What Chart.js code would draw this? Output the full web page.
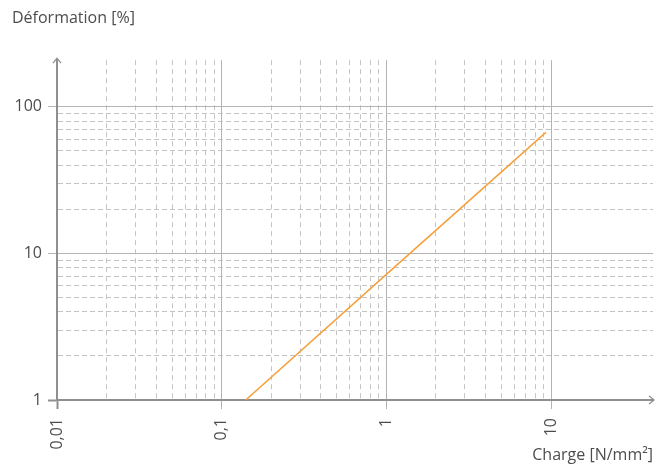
<!DOCTYPE html>
<html>
<head>
<meta charset="utf-8">
<script src="https://cdn.jsdelivr.net/npm/chart.js@4.4.1/dist/chart.umd.min.js"></script>
<style>
  body { margin: 0; background: #fff; }
  #wrap { width: 670px; height: 469px; }
</style>
</head>
<body>
<div id="wrap"><canvas id="chart" width="670" height="469"></canvas></div>
<script>
// load / deformation curve, both axes logarithmic
var charge = [0.14, 1, 9.3];        // N/mm²
var deformation = [1, 7.2, 67];     // %

var xDecades = [0.01, 0.1, 1, 10];
var xLabels = ['0,01', '0,1', '1', '10'];
var yDecades = [1, 10, 100];
var yLabels = ['1', '10', '100'];

var xMin = 0.01, xMax = 41.6;
var yMin = 1, yMax = 208;

var axisColor = '#8f8f8f';
var majorColor = '#b4b4b4';
var minorColor = '#c4c4c4';
var textColor = '#4d4d4d';

// 1..9 subdivisions of every decade
function gridValues(decades) {
    var out = [];
    for (var i = 0; i < decades.length - 1; i++) {
        for (var m = 1; m < 10; m++) out.push(decades[i] * m);
    }
    out.push(decades[decades.length - 1]);
    return out;
}

function decadeIndex(decades, v) {
    for (var i = 0; i < decades.length; i++) {
        if (Math.abs(v / decades[i] - 1) < 1e-6) return i;
    }
    return -1;
}

function logAxis(decades, labels, min, max, dash) {
    return {
        type: 'logarithmic',
        min: min,
        max: max,
        afterBuildTicks: function (scale) {
            scale.ticks = gridValues(decades).map(function (v) { return { value: v }; });
        },
        grid: {
            color: function (ctx) {
                return ctx.tick && decadeIndex(decades, ctx.tick.value) >= 0 ? majorColor : minorColor;
            },
            lineWidth: 1,
            tickLength: 9,
            tickWidth: function (ctx) {
                return ctx.tick && ctx.tick.value === decades[0] ? 2 : 1;
            },
            tickColor: function (ctx) {
                if (!ctx.tick) return 'rgba(0,0,0,0)';
                var i = decadeIndex(decades, ctx.tick.value);
                if (i === 0) return axisColor;
                return i > 0 ? majorColor : 'rgba(0,0,0,0)';
            }
        },
        border: {
            color: axisColor,
            width: 2,
            dash: function (ctx) {
                return ctx.tick && decadeIndex(decades, ctx.tick.value) < 0 ? dash : [];
            }
        },
        ticks: {
            autoSkip: false,
            color: textColor,
            font: { size: 16 },
            callback: function (value) {
                var i = decadeIndex(decades, value);
                return i >= 0 ? labels[i] : '';
            }
        }
    };
}

var xAxis = logAxis(xDecades, xLabels, xMin, xMax, [5, 4]);
xAxis.ticks.minRotation = 90;
xAxis.ticks.maxRotation = 90;
xAxis.ticks.padding = 9;
xAxis.title = {
    display: true,
    text: 'Charge [N/mm²]',
    align: 'end',
    color: textColor,
    font: { size: 16 },
    padding: { top: 0, bottom: 4 }
};
xAxis.afterFit = function (scale) { scale.height = 69; };

var yAxis = logAxis(yDecades, yLabels, yMin, yMax, [5, 3]);
yAxis.ticks.padding = 6;
yAxis.afterFit = function (scale) { scale.width = 45; };

// small arrow heads at the end of both axes
var axisArrows = {
    id: 'axisArrows',
    afterDraw: function (chart) {
        var a = chart.chartArea, ctx = chart.ctx;
        ctx.save();
        ctx.strokeStyle = axisColor;
        ctx.lineWidth = 1.3;
        ctx.beginPath();
        ctx.moveTo(a.left - 4, a.top + 3);
        ctx.lineTo(a.left, a.top - 2);
        ctx.lineTo(a.left + 4, a.top + 3);
        ctx.moveTo(a.right - 4, a.bottom - 4);
        ctx.lineTo(a.right + 1, a.bottom);
        ctx.lineTo(a.right - 4, a.bottom + 4);
        ctx.stroke();
        ctx.restore();
    }
};

Chart.defaults.font.family = '"Open Sans", sans-serif';

new Chart(document.getElementById('chart').getContext('2d'), {
    type: 'line',
    data: {
        datasets: [{
            label: 'Déformation',
            data: charge.map(function (c, i) { return { x: c, y: deformation[i] }; }),
            borderColor: '#f5a03a',
            borderWidth: 1.5,
            pointRadius: 0,
            tension: 0,
            fill: false
        }]
    },
    options: {
        responsive: false,
        animation: false,
        layout: { padding: { left: 12, right: 17, top: 0, bottom: 0 } },
        scales: { x: xAxis, y: yAxis },
        plugins: {
            legend: { display: false },
            tooltip: { enabled: false },
            title: {
                display: true,
                text: 'Déformation [%]',
                align: 'start',
                color: textColor,
                font: { size: 16, weight: 'normal' },
                padding: { top: 9, bottom: 32 }
            }
        }
    },
    plugins: [axisArrows]
});
</script>
</body>
</html>
